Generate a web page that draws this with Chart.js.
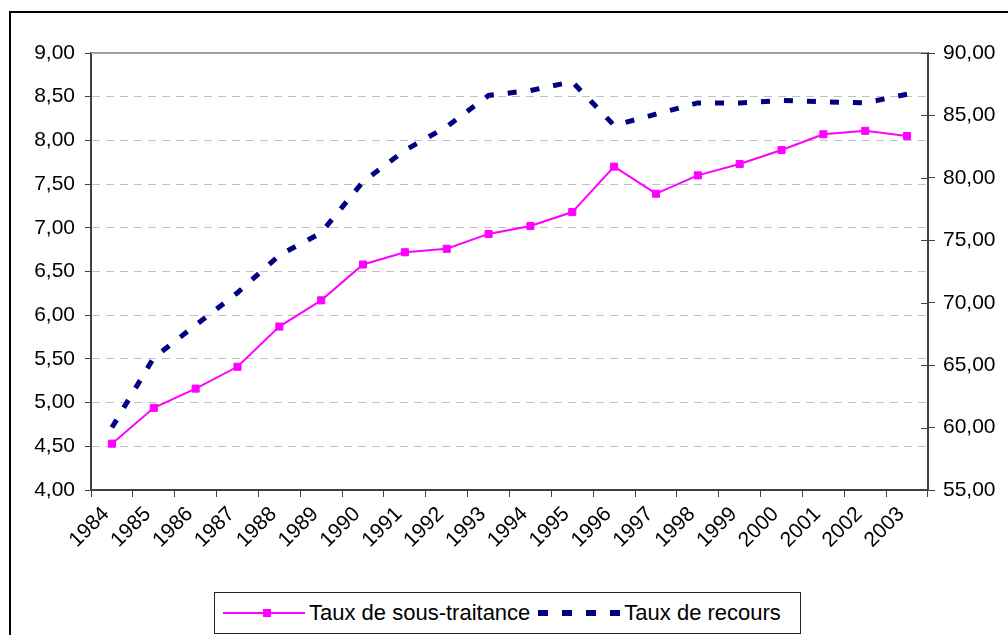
<!DOCTYPE html>
<html>
<head>
<meta charset="utf-8">
<script src="https://cdn.jsdelivr.net/npm/chart.js@4/dist/chart.umd.min.js"></script>
<style>
  html, body { margin: 0; padding: 0; background: #fff; width: 1008px; height: 635px; overflow: hidden; }
  body { position: relative; font-family: "Liberation Sans", Arial, sans-serif; }
  #frame { position: absolute; left: 9px; top: 11px; width: 1100px; height: 700px; border: 2px solid #000; }
  #wrap { position: absolute; left: 0; top: 0; width: 1008px; height: 590px; }
  #legend { position: absolute; left: 214px; top: 592px; width: 585px; height: 40px; border: 1px solid #222;
            display: flex; align-items: center; font-size: 22px; color: #000; box-sizing: content-box; }
  #legend span { white-space: nowrap; }
</style>
</head>
<body>
<div id="frame"></div>
<div id="wrap"><canvas id="chart" width="1008" height="590"></canvas></div>
<div id="legend">
  <svg width="88" height="20" style="margin-left:6px"><line x1="2" y1="10" x2="84" y2="10" stroke="#ff00ff" stroke-width="2"/><rect x="42" y="6" width="8" height="8" fill="#ff00ff"/></svg>
  <span>Taux de sous-traitance</span>
  <svg width="90" height="20" style="margin-left:4px"><line x1="4" y1="10" x2="90" y2="10" stroke="#000080" stroke-width="6" stroke-dasharray="10 14"/></svg>
  <span>Taux de recours</span>
</div>
<script>
const years = ['1984', '1985', '1986', '1987', '1988', '1989', '1990', '1991', '1992', '1993',
               '1994', '1995', '1996', '1997', '1998', '1999', '2000', '2001', '2002', '2003'];
const sousTraitance = [4.53, 4.94, 5.16, 5.41, 5.87, 6.17, 6.58, 6.72, 6.76, 6.93,
                       7.02, 7.18, 7.70, 7.39, 7.60, 7.73, 7.89, 8.07, 8.11, 8.05];
const recours = [60.0, 65.6, 68.2, 70.8, 73.8, 75.6, 79.7, 82.2, 84.1, 86.6,
                 87.0, 87.7, 84.2, 85.1, 86.0, 86.0, 86.2, 86.1, 86.0, 86.7];

const fmt = v => Number(v).toFixed(2).replace('.', ',');
const tickFont = { family: '"Liberation Sans", Arial, sans-serif', size: 21 };

// solid top border of the plot and inward tick marks on the right axis
const frameLines = {
  id: 'frameLines',
  afterDraw(chart) {
    const { ctx, chartArea } = chart;
    ctx.save();
    ctx.strokeStyle = '#a0a0a0';
    ctx.lineWidth = 2;
    ctx.beginPath();
    ctx.moveTo(chartArea.left, chartArea.top);
    ctx.lineTo(chartArea.right, chartArea.top);
    ctx.stroke();
    const y1 = chart.scales.y1;
    ctx.strokeStyle = '#404040';
    ctx.lineWidth = 1;
    y1.ticks.forEach(t => {
      const py = Math.round(y1.getPixelForValue(t.value)) + 0.5;
      ctx.beginPath();
      ctx.moveTo(chartArea.right - 7, py);
      ctx.lineTo(chartArea.right, py);
      ctx.stroke();
    });
    ctx.restore();
  }
};

new Chart(document.getElementById('chart'), {
  type: 'line',
  data: {
    labels: years,
    datasets: [
      {
        label: 'Taux de sous-traitance',
        data: sousTraitance,
        yAxisID: 'y',
        borderColor: '#ff00ff',
        backgroundColor: '#ff00ff',
        borderWidth: 2,
        pointStyle: 'rect',
        pointRadius: 5,
        pointBorderWidth: 1,
        tension: 0
      },
      {
        label: 'Taux de recours',
        data: recours,
        yAxisID: 'y1',
        borderColor: '#000080',
        backgroundColor: '#000080',
        borderWidth: 5,
        borderDash: [9, 14],
        borderCapStyle: 'butt',
        pointRadius: 0,
        tension: 0
      }
    ]
  },
  options: {
    responsive: false,
    animation: false,
    layout: { padding: { top: 53, left: 0, right: 0, bottom: 0 } },
    plugins: {
      legend: { display: false },
      tooltip: { enabled: false }
    },
    scales: {
      x: {
        offset: true,
        grid: { offset: true, drawOnChartArea: false, tickLength: 7, tickColor: '#404040', lineWidth: 1 },
        border: { color: '#404040', width: 2 },
        ticks: { color: '#000', font: tickFont, maxRotation: 45, minRotation: 45, autoSkip: false, padding: 5, labelOffset: -6 },
        afterFit: s => { s.height = 100; }
      },
      y: {
        position: 'left',
        min: 4,
        max: 9,
        ticks: { stepSize: 0.5, color: '#000', font: tickFont, padding: 10, callback: fmt },
        grid: { color: '#c0c0c0', lineWidth: 1, tickLength: 6, tickColor: '#404040', tickBorderDash: [] },
        border: { color: '#404040', width: 2, dash: [8, 6] },
        afterFit: s => { s.width = 91; }
      },
      y1: {
        position: 'right',
        min: 55,
        max: 90,
        ticks: { stepSize: 5, color: '#000', font: tickFont, padding: 8, callback: fmt },
        grid: { drawOnChartArea: false, tickLength: 7, tickColor: '#404040' },
        border: { color: '#404040', width: 2 },
        afterFit: s => { s.width = 80; }
      }
    }
  },
  plugins: [frameLines]
});
</script>
</body>
</html>
